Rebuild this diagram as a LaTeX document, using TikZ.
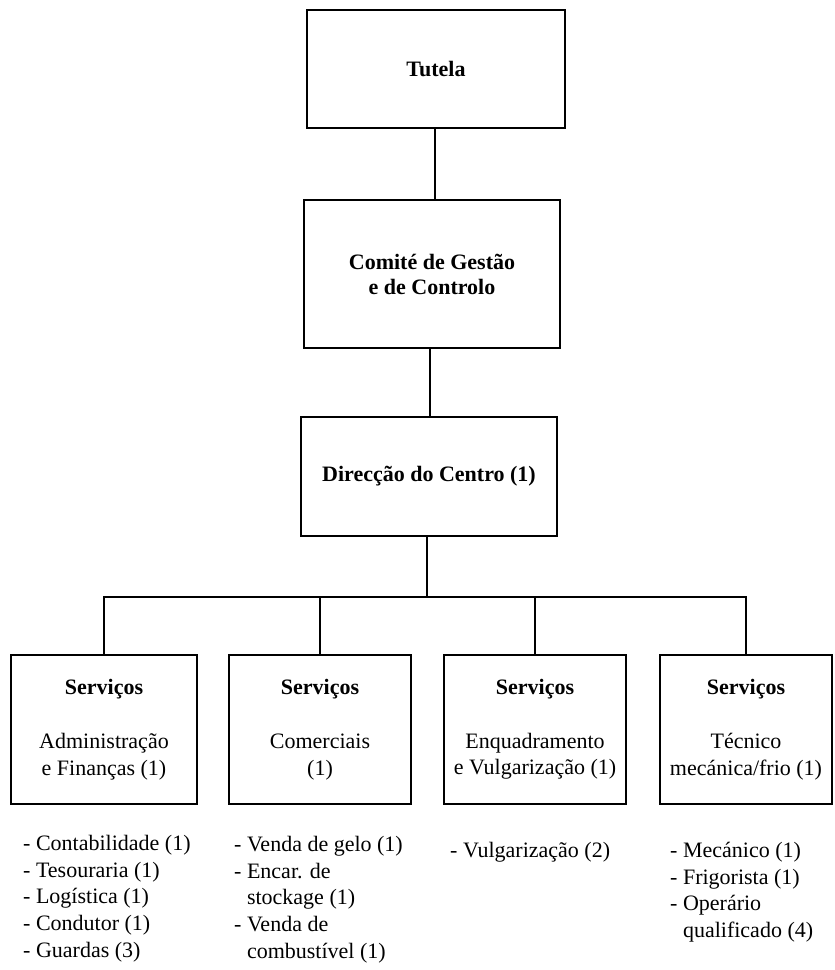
\documentclass[tikz,border=0pt]{standalone}
\usepackage{fontspec}
\setmainfont{Liberation Serif}
\newcommand\szn{\fontsize{22pt}{26.7pt}\selectfont}
\newcommand\szb{\fontsize{22pt}{25pt}\selectfont\bfseries}
\begin{document}
\begin{tikzpicture}[x=1pt,y=-1pt,
  box/.style={draw, line width=2pt, inner sep=0pt, align=center, font=\szn},
  topbox/.style={box, font=\szb},
  lst/.style={anchor=north west, inner sep=0pt, align=left, font=\szn},
  conn/.style={line width=2pt}]
\useasboundingbox (0,0) rectangle (835,970);
% top chain
\node[topbox, minimum width=258pt, minimum height=118pt] (tut) at (436,69) {Tutela};
\node[topbox, minimum width=256pt, minimum height=148pt] (com) at (432,274) {Comité de Gestão\\e de Controlo};
\node[topbox, minimum width=256pt, minimum height=119pt] (dir) at (429,476.5) {Direcção do Centro (1)};
% service boxes
\node[box, minimum width=186pt, minimum height=149pt] (b1) at (104,729.5) {\textbf{Serviços}\\[27pt]Administração\\e Finanças (1)};
\node[box, minimum width=182pt, minimum height=149pt] (b2) at (320,729.5) {\textbf{Serviços}\\[27pt]Comerciais\\(1)};
\node[box, minimum width=182pt, minimum height=149pt] (b3) at (535,729.5) {\textbf{Serviços}\\[27pt]Enquadramento\\e Vulgarização (1)};
\node[box, minimum width=172pt, minimum height=149pt] (b4) at (746,729.5) {\textbf{Serviços}\\[27pt]Técnico\\mecánica/frio (1)};
% connectors
\coordinate (bus) at (427,597);
\draw[conn] ([xshift=-1pt]tut.south) -- ([xshift=-1pt]tut.south |- com.north);
\draw[conn] ([xshift=-2pt]com.south) -- ([xshift=-2pt]com.south |- dir.north);
\draw[conn] ([xshift=-2pt]dir.south) -- (bus);
\draw[conn] (b1.north) |- (bus) -| (b4.north);
\draw[conn] (b2.north) -- (b2.north |- bus);
\draw[conn] (b3.north) -- (b3.north |- bus);
% lists
\node[lst] (l1) at (23,835) {- Contabilidade (1)\\- Tesouraria (1)\\- Logística (1)\\- Condutor (1)\\- Guardas (3)};
\node[lst] (l2) at (234,836) {- Venda de gelo (1)\\- Encar. de\\\hphantom{- }stockage (1)\\- Venda de\\\hphantom{- }combustível (1)};
\node[lst] (l3) at (450,842) {- Vulgarização (2)};
\node[lst] (l4) at (670,842) {- Mecánico (1)\\- Frigorista (1)\\- Operário\\\hphantom{- }qualificado (4)};
\end{tikzpicture}
\end{document}
